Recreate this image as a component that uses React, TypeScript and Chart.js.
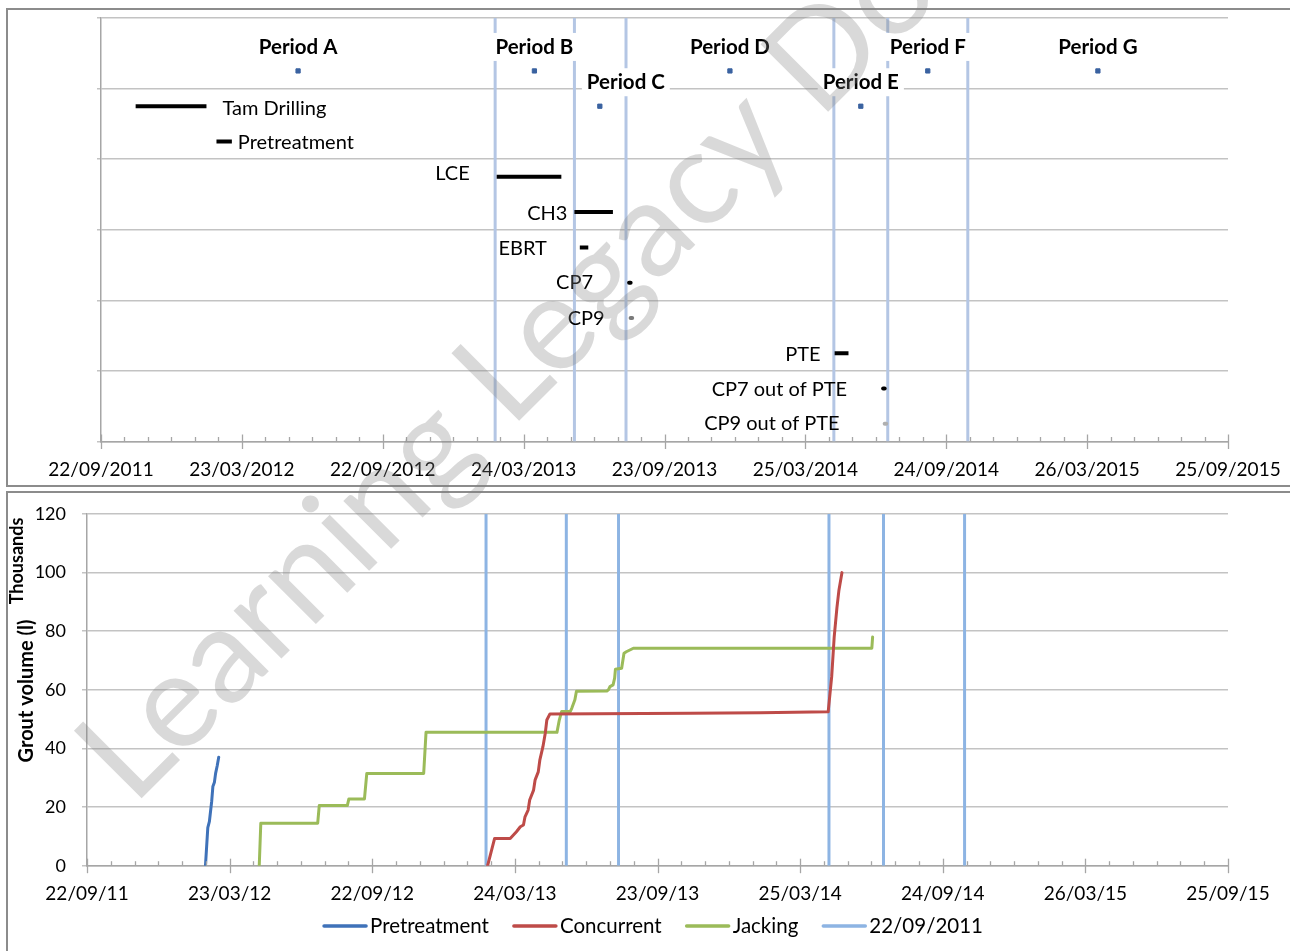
import React, { useEffect, useRef } from 'react';
import { Chart, registerables } from 'chart.js';

Chart.register(...registerables);

// ---------------- data (x values are days counted from 22/09/2011) ----------------
const axisSpanDays = 1464;
const majorTickDays = 183;
const minorTickDays = 30.5;

const periodNames = ['Period A', 'Period B', 'Period C', 'Period D', 'Period E', 'Period F', 'Period G'];
const periodMarkerDays = [256, 563, 648, 817, 987, 1074, 1295];
const periodMarkerLevels = [5.25, 5.25, 4.75, 5.25, 4.75, 5.25, 5.25];
const periodBoundaryDays = [512, 615, 682, 952, 1022, 1126];

const activityNames = ['Tam Drilling', 'Pretreatment', 'LCE', 'CH3', 'EBRT', 'CP7', 'CP9', 'PTE', 'CP7 out of PTE', 'CP9 out of PTE'];
const activityStartDays = [45, 150, 514, 615, 622, 686, 688, 953, 1016, 1018];
const activityEndDays = [137, 170, 598, 665, 633, 688, 690, 971, 1018, 1020];
const activityLevels = [4.75, 4.25, 3.75, 3.25, 2.75, 2.25, 1.75, 1.25, 0.75, 0.25];

const pretreatmentDays = [152, 153.5, 155, 157, 160, 161.5, 163.5, 165, 167, 169];
const pretreatmentVolumes = [0, 6.5, 13, 15, 22, 27, 28.5, 31.5, 34, 37];

const concurrentDays = [514, 523, 543, 551, 556, 560, 562, 566, 568, 573, 575, 579, 581, 585, 588, 590, 594, 774, 864, 951, 955.5, 958.7, 962.2, 964.8, 968.7];
const concurrentVolumes = [0, 9.3, 9.3, 11.6, 13.3, 13.9, 16.7, 19, 22.4, 25.8, 29.3, 32, 36, 40.6, 45.2, 49.7, 51.8, 52, 52.2, 52.5, 64.5, 78, 88, 94, 100];

const jackingDays = [221, 223, 296, 298, 334, 336, 356, 359, 432, 435, 603, 606, 609, 620, 622, 626, 628, 667, 669, 671, 675, 677, 678, 686, 689, 692, 701, 1007, 1008];
const jackingVolumes = [0, 14.5, 14.5, 20.5, 20.5, 22.8, 22.8, 31.5, 31.5, 45.5, 45.5, 49.7, 52.6, 52.6, 53.7, 56.6, 59.5, 59.6, 60, 61.1, 61.7, 64, 67, 67.4, 72.5, 73, 74.2, 74.2, 78];

const volumeTicksMax = 120;
const volumeTickStep = 20;

// ---------------- styling / layout ----------------
const FONT = 'Lato, "Open Sans", sans-serif';
const activityColors = ['#000', '#000', '#000', '#000', '#000', '#000', '#7a7a7a', '#000', '#000', '#b0b0b0'];
const activityLabelSide = ['right', 'right', 'left', 'left', 'left', 'left', 'left', 'left', 'left', 'left'];
const activityLabelGap = [16, 6, 27, 7, 33, 36, 26, 14, 36, 45];
const activityLabelDy = [2, 1, -3, 1, 1, 0, 1, 1, 1, 0];
const periodLabelDx = [0, 0, 26, 0, 0, 0, 0];

function dayToLabel(day: number, shortYear: boolean): string {
  const base = Date.UTC(2011, 8, 22);
  const d = new Date(base + Math.round(day) * 86400000);
  const dd = String(d.getUTCDate()).padStart(2, '0');
  const mm = String(d.getUTCMonth() + 1).padStart(2, '0');
  const yyyy = String(d.getUTCFullYear());
  return `${dd}/${mm}/${shortYear ? yyyy.slice(2) : yyyy}`;
}

function minorTickValues(): number[] {
  const out: number[] = [];
  for (let k = 0; k * minorTickDays <= axisSpanDays + 0.001; k++) out.push(k * minorTickDays);
  return out;
}

function isMajor(v: number) {
  const r = v % majorTickDays;
  return r < 0.01 || majorTickDays - r < 0.01;
}

function zip(xs: number[], ys: number[]) {
  return xs.map((x, i) => ({ x, y: ys[i] }));
}

function boundaryData(yMax: number) {
  const out: any[] = [];
  periodBoundaryDays.forEach((d) => {
    out.push({ x: d, y: 0 }, { x: d, y: yMax }, { x: d, y: null });
  });
  return out;
}

const dateTickPlugin = {
  id: 'dateTicks',
  afterDraw(chart: any) {
    const xs = chart.scales.x;
    const ctx = chart.ctx;
    const axisY = chart.chartArea.bottom;
    ctx.save();
    ctx.strokeStyle = '#a6a6a6';
    ctx.lineWidth = 1.3;
    minorTickValues().forEach((v) => {
      const px = Math.round(xs.getPixelForValue(v)) + 0.5;
      const major = isMajor(v);
      ctx.beginPath();
      ctx.moveTo(px, axisY - (major ? 7 : 4.5));
      ctx.lineTo(px, axisY + (major ? 7.5 : 0));
      ctx.stroke();
    });
    ctx.restore();
  },
};

const topLabelsPlugin = {
  id: 'topLabels',
  afterDatasetsDraw(chart: any) {
    const { ctx } = chart;
    const x = chart.scales.x;
    const y = chart.scales.y;
    ctx.save();
    ctx.font = `20px ${FONT}`;
    ctx.fillStyle = '#000';
    ctx.textBaseline = 'middle';
    activityNames.forEach((name, i) => {
      const py = y.getPixelForValue(activityLevels[i]) + activityLabelDy[i];
      if (activityLabelSide[i] === 'right') {
        ctx.textAlign = 'left';
        ctx.fillText(name, x.getPixelForValue(activityEndDays[i]) + activityLabelGap[i], py);
      } else {
        ctx.textAlign = 'right';
        ctx.fillText(name, x.getPixelForValue(activityStartDays[i]) - activityLabelGap[i], py);
      }
    });
    ctx.font = `bold 20.5px ${FONT}`;
    ctx.textAlign = 'center';
    periodNames.forEach((name, i) => {
      const cx = x.getPixelForValue(periodMarkerDays[i]) + periodLabelDx[i];
      const cy = y.getPixelForValue(periodMarkerLevels[i]) - 24;
      const w = ctx.measureText(name).width;
      ctx.fillStyle = '#fff';
      ctx.fillRect(cx - w / 2 - 5, cy - 14, w + 10, 28);
      ctx.fillStyle = '#000';
      ctx.fillText(name, cx, cy);
    });
    ctx.restore();
  },
};

const bottomExtrasPlugin = {
  id: 'bottomExtras',
  afterDraw(chart: any) {
    const ctx = chart.ctx;
    ctx.save();
    // axis titles
    ctx.fillStyle = '#000';
    ctx.textAlign = 'center';
    ctx.textBaseline = 'middle';
    ctx.font = `bold 18px ${FONT}`;
    ctx.save();
    ctx.translate(9, 68);
    ctx.rotate(-Math.PI / 2);
    ctx.fillText('Thousands', 0, 0);
    ctx.restore();
    ctx.font = `bold 20px ${FONT}`;
    ctx.save();
    ctx.translate(19, 198);
    ctx.rotate(-Math.PI / 2);
    ctx.fillText('Grout volume (l)', 0, 0);
    ctx.restore();
    // legend
    ctx.font = `20.5px ${FONT}`;
    const items = chart.data.datasets.map((ds: any) => ({ label: ds.label, color: ds.borderColor }));
    const widths = items.map((it: any) => 44 + 3 + ctx.measureText(it.label).width);
    const gap = 24;
    const total = widths.reduce((a: number, b: number) => a + b, 0) + gap * (items.length - 1);
    let lx = 645 - total / 2;
    const ly = 433;
    ctx.textAlign = 'left';
    items.forEach((it: any, i: number) => {
      ctx.strokeStyle = it.color;
      ctx.lineWidth = 3.5;
      ctx.lineCap = 'round';
      ctx.beginPath();
      ctx.moveTo(lx + 1, ly);
      ctx.lineTo(lx + 43, ly);
      ctx.stroke();
      ctx.fillStyle = '#000';
      ctx.fillText(it.label, lx + 47, ly);
      lx += widths[i] + gap;
    });
    ctx.restore();
  },
};

function xScale(shortYear: boolean, height: number) {
  return {
    type: 'linear',
    min: 0,
    max: axisSpanDays,
    afterBuildTicks: (scale: any) => {
      scale.ticks = minorTickValues().map((v) => ({ value: v }));
    },
    afterFit: (scale: any) => {
      scale.height = height;
      scale.paddingLeft = 0;
      scale.paddingRight = 0;
    },
    ticks: {
      autoSkip: false,
      maxRotation: 0,
      minRotation: 0,
      padding: 17,
      color: '#000',
      font: { family: FONT, size: 19 },
      callback: (v: any) => (isMajor(Number(v)) ? dayToLabel(Number(v), shortYear) : ''),
    },
    grid: { display: true, drawOnChartArea: false, drawTicks: false },
    border: { display: true, color: '#a6a6a6', width: 1.5 },
  };
}

function topConfig(): any {
  const datasets: any[] = [];
  datasets.push({
    label: 'Period boundaries',
    data: boundaryData(6),
    borderColor: '#b4c6e4',
    borderWidth: 3,
    pointRadius: 0,
    spanGaps: false,
    order: 3,
  });
  activityNames.forEach((name, i) => {
    datasets.push({
      label: name,
      data: [
        { x: activityStartDays[i], y: activityLevels[i] },
        { x: activityEndDays[i], y: activityLevels[i] },
      ],
      borderColor: activityColors[i],
      borderWidth: 4,
      borderCapStyle: activityEndDays[i] - activityStartDays[i] < 4 ? 'round' : 'butt',
      pointRadius: 0,
      order: 1,
    });
  });
  datasets.push({
    label: 'Periods',
    data: zip(periodMarkerDays, periodMarkerLevels),
    showLine: false,
    pointStyle: 'rect',
    pointRadius: 3,
    pointBorderWidth: 1,
    pointBackgroundColor: '#3a62a0',
    pointBorderColor: '#3a62a0',
    order: 0,
  });
  return {
    type: 'line',
    data: { datasets },
    options: {
      responsive: false,
      maintainAspectRatio: false,
      animation: false,
      layout: { padding: { left: 0, right: 62, top: 8, bottom: 0 } },
      plugins: { legend: { display: false }, tooltip: { enabled: false } },
      scales: {
        x: xScale(false, 41.5),
        y: {
          type: 'linear',
          min: 0,
          max: 6,
          afterFit: (scale: any) => {
            scale.width = 93;
            scale.paddingTop = 0;
            scale.paddingBottom = 0;
          },
          ticks: { stepSize: 1, display: false },
          grid: { color: '#c3c3c3', lineWidth: 1.5, tickLength: 4, drawTicks: true },
          border: { display: true, color: '#a6a6a6', width: 1.5 },
        },
      },
    },
    plugins: [topLabelsPlugin, dateTickPlugin],
  };
}

function bottomConfig(): any {
  const lineStyle = { borderWidth: 3, pointRadius: 0, borderJoinStyle: 'round', borderCapStyle: 'round', tension: 0 };
  return {
    type: 'line',
    data: {
      datasets: [
        { label: 'Pretreatment', data: zip(pretreatmentDays, pretreatmentVolumes), borderColor: '#3f72b9', order: 1, ...lineStyle },
        { label: 'Concurrent', data: zip(concurrentDays, concurrentVolumes), borderColor: '#be4b48', order: 1, ...lineStyle },
        { label: 'Jacking', data: zip(jackingDays, jackingVolumes), borderColor: '#9bbb59', order: 1, ...lineStyle },
        { label: '22/09/2011', data: boundaryData(volumeTicksMax), borderColor: '#8db4e3', spanGaps: false, order: 5, ...lineStyle, borderCapStyle: 'butt' },
      ],
    },
    options: {
      responsive: false,
      maintainAspectRatio: false,
      animation: false,
      layout: { padding: { left: 0, right: 62, top: 21, bottom: 0 } },
      plugins: { legend: { display: false }, tooltip: { enabled: false } },
      scales: {
        x: xScale(true, 85.3),
        y: {
          type: 'linear',
          min: 0,
          max: volumeTicksMax,
          afterFit: (scale: any) => {
            scale.width = 79;
            scale.paddingTop = 0;
            scale.paddingBottom = 0;
          },
          ticks: { stepSize: volumeTickStep, padding: 16, color: '#000', font: { family: FONT, size: 18 } },
          grid: { color: '#c3c3c3', lineWidth: 1.5, tickLength: 5, drawTicks: true },
          border: { display: true, color: '#a6a6a6', width: 1.5 },
        },
      },
    },
    plugins: [bottomExtrasPlugin, dateTickPlugin],
  };
}

function drawWatermark(c: HTMLCanvasElement) {
  const ctx = c.getContext('2d');
  if (!ctx) return;
  ctx.clearRect(0, 0, c.width, c.height);
  ctx.font = `100px ${FONT}`;
  const w = ctx.measureText('Learning ').width;
  const size = (100 * 534) / w;
  ctx.font = `${size}px ${FONT}`;
  ctx.save();
  ctx.translate(133, 807);
  ctx.rotate((-45 * Math.PI) / 180);
  ctx.fillStyle = 'rgba(128,128,128,0.3)';
  ctx.textBaseline = 'alphabetic';
  ctx.fillText('Learning Legacy Document', 0, 0);
  ctx.restore();
}

export default function App() {
  const topRef = useRef<HTMLCanvasElement>(null);
  const bottomRef = useRef<HTMLCanvasElement>(null);
  const wmRef = useRef<HTMLCanvasElement>(null);

  useEffect(() => {
    const top = new Chart(topRef.current as HTMLCanvasElement, topConfig());
    const bottom = new Chart(bottomRef.current as HTMLCanvasElement, bottomConfig());
    if (wmRef.current) drawWatermark(wmRef.current);
    return () => {
      top.destroy();
      bottom.destroy();
    };
  }, []);

  return (
    <div style={{ position: 'fixed', left: 0, top: 0, width: 1290, height: 951, overflow: 'hidden', background: '#fff' }}>
      <div
        style={{
          position: 'absolute',
          left: 6,
          top: 8,
          width: 1400,
          height: 475,
          borderLeft: '2px solid #8c8c8c',
          borderTop: '2px solid #8c8c8c',
          borderBottom: '2px solid #8c8c8c',
        }}
      />
      <div
        style={{
          position: 'absolute',
          left: 6,
          top: 491,
          width: 1400,
          height: 600,
          borderLeft: '2px solid #8c8c8c',
          borderTop: '2px solid #8c8c8c',
        }}
      />
      <canvas ref={topRef} width={1282} height={473} style={{ position: 'absolute', left: 8, top: 10, width: 1282, height: 473 }} />
      <canvas ref={bottomRef} width={1282} height={458} style={{ position: 'absolute', left: 8, top: 493, width: 1282, height: 458 }} />
      <canvas ref={wmRef} width={1290} height={951} style={{ position: 'absolute', left: 0, top: 0, width: 1290, height: 951, pointerEvents: 'none' }} />
    </div>
  );
}
